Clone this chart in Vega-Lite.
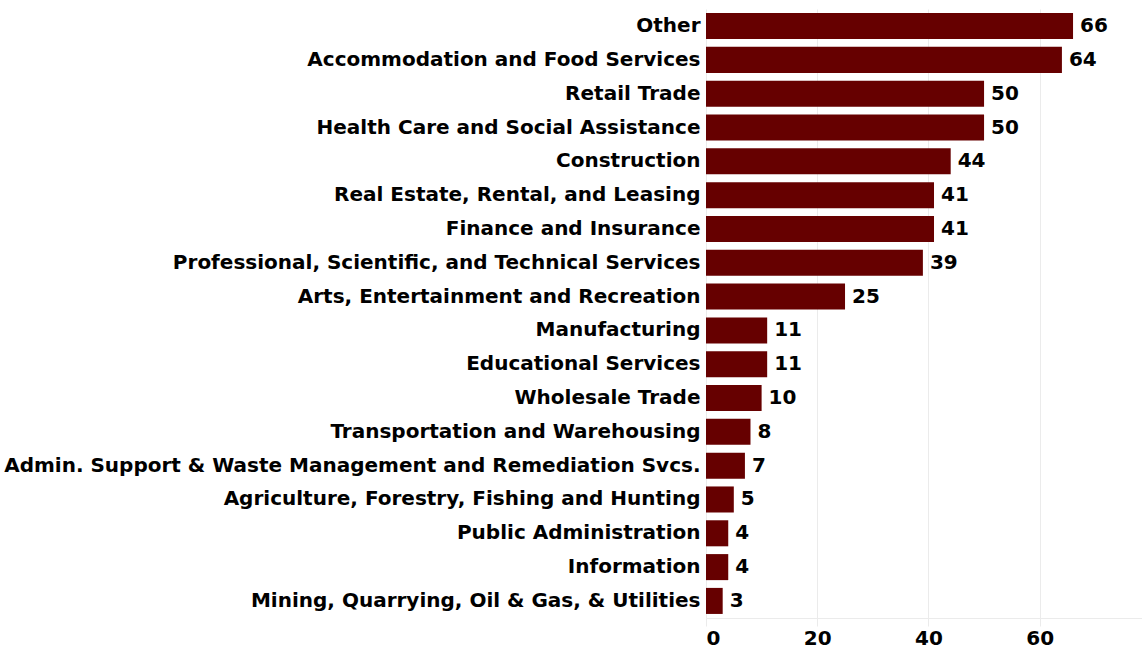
{
  "$schema": "https://vega.github.io/schema/vega-lite/v6.json",
  "autosize": {"type": "none"},
  "padding": {"left": 706, "top": 9, "right": 0, "bottom": 36},
  "width": 436,
  "height": 609,
  "background": "white",
  "config": {
    "view": {"stroke": null},
    "font": "DejaVu Sans"
  },
  "data": {
    "values": [
      {"industry": "Other", "count": 66},
      {"industry": "Accommodation and Food Services", "count": 64},
      {"industry": "Retail Trade", "count": 50},
      {"industry": "Health Care and Social Assistance", "count": 50},
      {"industry": "Construction", "count": 44},
      {"industry": "Real Estate, Rental, and Leasing", "count": 41},
      {"industry": "Finance and Insurance", "count": 41},
      {"industry": "Professional, Scientific, and Technical Services", "count": 39},
      {"industry": "Arts, Entertainment and Recreation", "count": 25},
      {"industry": "Manufacturing", "count": 11},
      {"industry": "Educational Services", "count": 11},
      {"industry": "Wholesale Trade", "count": 10},
      {"industry": "Transportation and Warehousing", "count": 8},
      {"industry": "Admin. Support & Waste Management and Remediation Svcs.", "count": 7},
      {"industry": "Agriculture, Forestry, Fishing and Hunting", "count": 5},
      {"industry": "Public Administration", "count": 4},
      {"industry": "Information", "count": 4},
      {"industry": "Mining, Quarrying, Oil & Gas, & Utilities", "count": 3}
    ]
  },
  "encoding": {
    "y": {
      "field": "industry",
      "type": "nominal",
      "sort": null,
      "scale": {"paddingInner": 0.23, "paddingOuter": 0.12},
      "axis": {
        "title": null,
        "domain": false,
        "ticks": false,
        "labelFontSize": 20,
        "labelFontWeight": "bold",
        "labelColor": "#000000",
        "labelPadding": 6,
        "labelLimit": 0
      }
    },
    "x": {
      "field": "count",
      "type": "quantitative",
      "scale": {"domain": [0, 78.4], "nice": false},
      "axis": {
        "title": null,
        "values": [0, 20, 40, 60],
        "grid": true,
        "gridColor": "#ebebeb",
        "domainColor": "#ebebeb",
        "tickColor": "#ebebeb",
        "tickSize": 8,
        "labelFontSize": 20,
        "labelFontWeight": "bold",
        "labelColor": "#000000",
        "labelPadding": 2
      }
    }
  },
  "layer": [
    {"mark": {"type": "bar", "color": "#660000"}},
    {
      "mark": {"type": "text", "align": "left", "dx": 7, "fontSize": 20, "fontWeight": "bold", "color": "#000000"},
      "encoding": {"text": {"field": "count", "type": "quantitative"}}
    }
  ]
}
